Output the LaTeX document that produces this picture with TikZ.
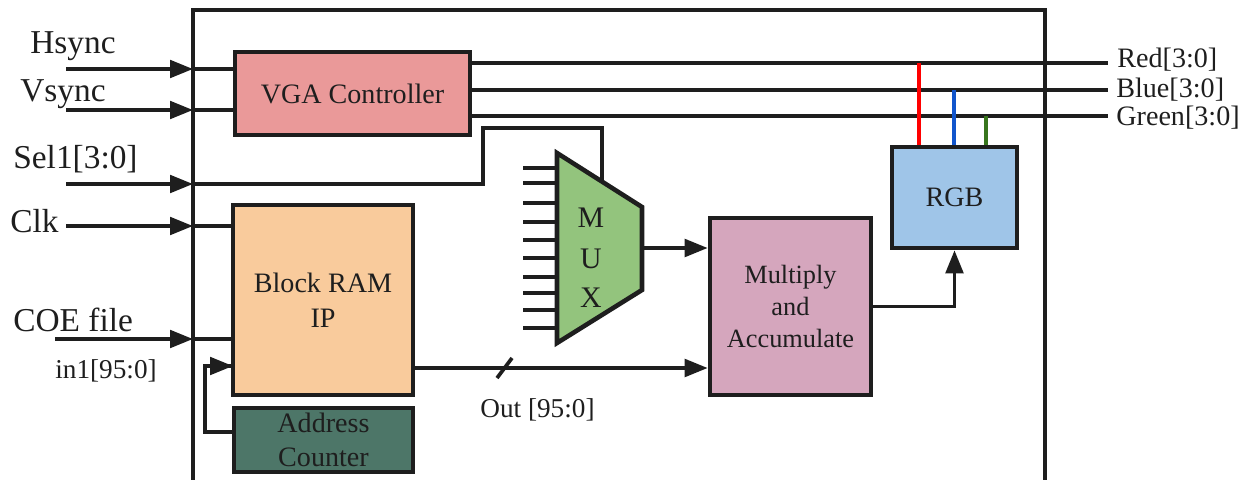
\documentclass[tikz,border=0pt]{standalone}
\usepackage{fontspec}
\setmainfont{Liberation Serif}
\usetikzlibrary{arrows.meta}
\newdimen\pxu
\pxu=0.02cm
\definecolor{inkc}{HTML}{1E1E1E}
\definecolor{vgafill}{HTML}{EA9999}
\definecolor{ramfill}{HTML}{F9CB9C}
\definecolor{addrfill}{HTML}{4D7668}
\definecolor{muxfill}{HTML}{93C47D}
\definecolor{macfill}{HTML}{D5A6BD}
\definecolor{rgbfill}{HTML}{9FC5E8}
\definecolor{redw}{HTML}{FF0000}
\definecolor{bluew}{HTML}{1155CC}
\definecolor{greenw}{HTML}{38761D}
\tikzset{
  wire/.style={draw=inkc, line width=2.1pt},
  sig/.style={wire, -{Triangle[length=0.46cm,width=0.35cm]}},
  block/.style={draw=inkc, line width=2.6pt, inner sep=0pt, align=center,
    text=inkc, font=\fontsize{16}{20}\selectfont},
  lbl/.style={inner sep=0pt, text=inkc},
  bigl/.style={lbl, font=\fontsize{19}{22}\selectfont, anchor=base west},
  midl/.style={lbl, font=\fontsize{15.5}{18}\selectfont, anchor=base west},
  outl/.style={lbl, font=\fontsize{16}{19}\selectfont, anchor=base west},
  muxl/.style={lbl, font=\fontsize{17}{20}\selectfont},
  tap/.style={line width=2.6pt}
}
\begin{document}
\begin{tikzpicture}[x=0.02cm, y=-0.02cm]
\useasboundingbox (0,0) rectangle (1251,480);

% enclosing module outline (continues below the lower edge)
\draw[wire, line width=2.4pt] (193,495) -- (193,10) -- (1045,10) -- (1045,495);

% functional blocks
\node[block, fill=vgafill, minimum width=235\pxu, minimum height=83\pxu] (vga) at (352.5,93.5) {VGA Controller};
\node[block, fill=ramfill, minimum width=180\pxu, minimum height=190\pxu] (ram) at (323,300) {Block RAM\\IP};
\node[block, fill=addrfill, minimum width=179\pxu, minimum height=64\pxu,
      font=\fontsize{16}{19}\selectfont] (addr) at (323.5,440) {Address\\Counter};
\node[block, fill=macfill, minimum width=161\pxu, minimum height=177\pxu,
      font=\fontsize{15}{18}\selectfont] (mac) at (790.5,306.5) {Multiply\\and\\Accumulate};
\node[block, fill=rgbfill, minimum width=125\pxu, minimum height=101\pxu] (rgb) at (954.5,197.5) {RGB};

% multiplexer: input stubs, trapezoid body and letters
\foreach \yy in {168,183,203,222,240,258,277,293,310,328}
  \draw[wire] (523,\yy) -- (557,\yy);
\draw[draw=inkc, line width=2.6pt, fill=muxfill, line join=miter]
  (557,153) coordinate (muxtl) -- (642,207) coordinate (muxtr)
  -- (642,290) coordinate (muxbr) -- (557,343) coordinate (muxbl) -- cycle;
\coordinate (muxout) at (642,248);
\coordinate (muxsel) at (602,181);
\node[muxl] (mM) at (591,218) {M};
\node[muxl] (mU) at (591,259) {U};
\node[muxl] (mX) at (591,298) {X};

% external inputs
\coordinate (hs0) at (66,69);   \coordinate (hs1) at (193,69);
\coordinate (vs0) at (66,110);  \coordinate (vs1) at (193,110);
\coordinate (se0) at (66,184);  \coordinate (se1) at (193,184);
\coordinate (ck0) at (66,226);  \coordinate (ck1) at (193,226);
\coordinate (co0) at (55,339);  \coordinate (co1) at (193,339);

\draw[sig] (hs0) -- (hs1);
\draw[sig] (vs0) -- (vs1);
\draw[sig] (se0) -- (se1);
\draw[sig] (ck0) -- (ck1);
\draw[sig] (co0) -- (co1);

\draw[wire] (hs1) -- (vga.west |- hs1);
\draw[wire] (vs1) -- (vga.west |- vs1);
\draw[wire] (ck1) -- (ram.west |- ck1);
\draw[wire] (co1) -- (ram.west |- co1);

% select bus routed over to the multiplexer
\coordinate (sk1) at (483,184);
\coordinate (sk2) at (483,128);
\coordinate (sk3) at (602,128);
\draw[wire, line join=miter] (se1) -- (sk1) -- (sk2) -- (sk3) -- (muxsel);

\node[bigl] (lhs) at (30,53) {Hsync};
\node[bigl] (lvs) at (20,101) {Vsync};
\node[bigl] (lse) at (13,168) {Sel1[3:0]};
\node[bigl] (lck) at (10,232) {Clk};
\node[bigl] (lco) at (13,331) {COE file};
\node[midl] (lin) at (55,378) {in1[95:0]};

% address counter feeding back into the memory
\coordinate (ac0) at (234,432);
\coordinate (ac1) at (205,432);
\coordinate (ac2) at (205,366);
\coordinate (ac3) at (233,366);
\draw[wire, line join=miter] (ac0) -- (ac1) -- (ac2) -- (ac3);
\draw[sig] (ac2) -- (ac3);

% memory output bus and multiplexer output into the MAC
\coordinate (ro0) at (413,368);
\draw[sig] (ro0) -- (mac.west |- ro0);
\coordinate (sl0) at (497,378);
\coordinate (sl1) at (512,358);
\draw[wire] (sl0) -- (sl1);
\node[midl] (lout) at (480,417) {Out [95:0]};
\draw[sig] (muxout) -- (mac.west |- muxout);

% MAC result into the RGB stage
\draw[sig, line join=miter] (mac.east) -| (rgb.south);

% colour outputs
\coordinate (re1) at (1108,63);
\coordinate (bl1) at (1108,90);
\coordinate (gr1) at (1108,116);
\draw[wire] (vga.east |- re1) -- (re1);
\draw[wire] (vga.east |- bl1) -- (bl1);
\draw[wire] (vga.east |- gr1) -- (gr1);

\coordinate (rtap) at (919,63);
\coordinate (btap) at (954,90);
\coordinate (gtap) at (986,116);
\draw[tap, redw]   (rtap) -- (rgb.north -| rtap);
\draw[tap, bluew]  (btap) -- (rgb.north -| btap);
\draw[tap, greenw] (gtap) -- (rgb.north -| gtap);

\node[outl] (lre) at (1117,67) {Red[3:0]};
\node[outl] (lbl) at (1116,97) {Blue[3:0]};
\node[outl] (lgr) at (1116,125) {Green[3:0]};
\end{tikzpicture}
\end{document}
